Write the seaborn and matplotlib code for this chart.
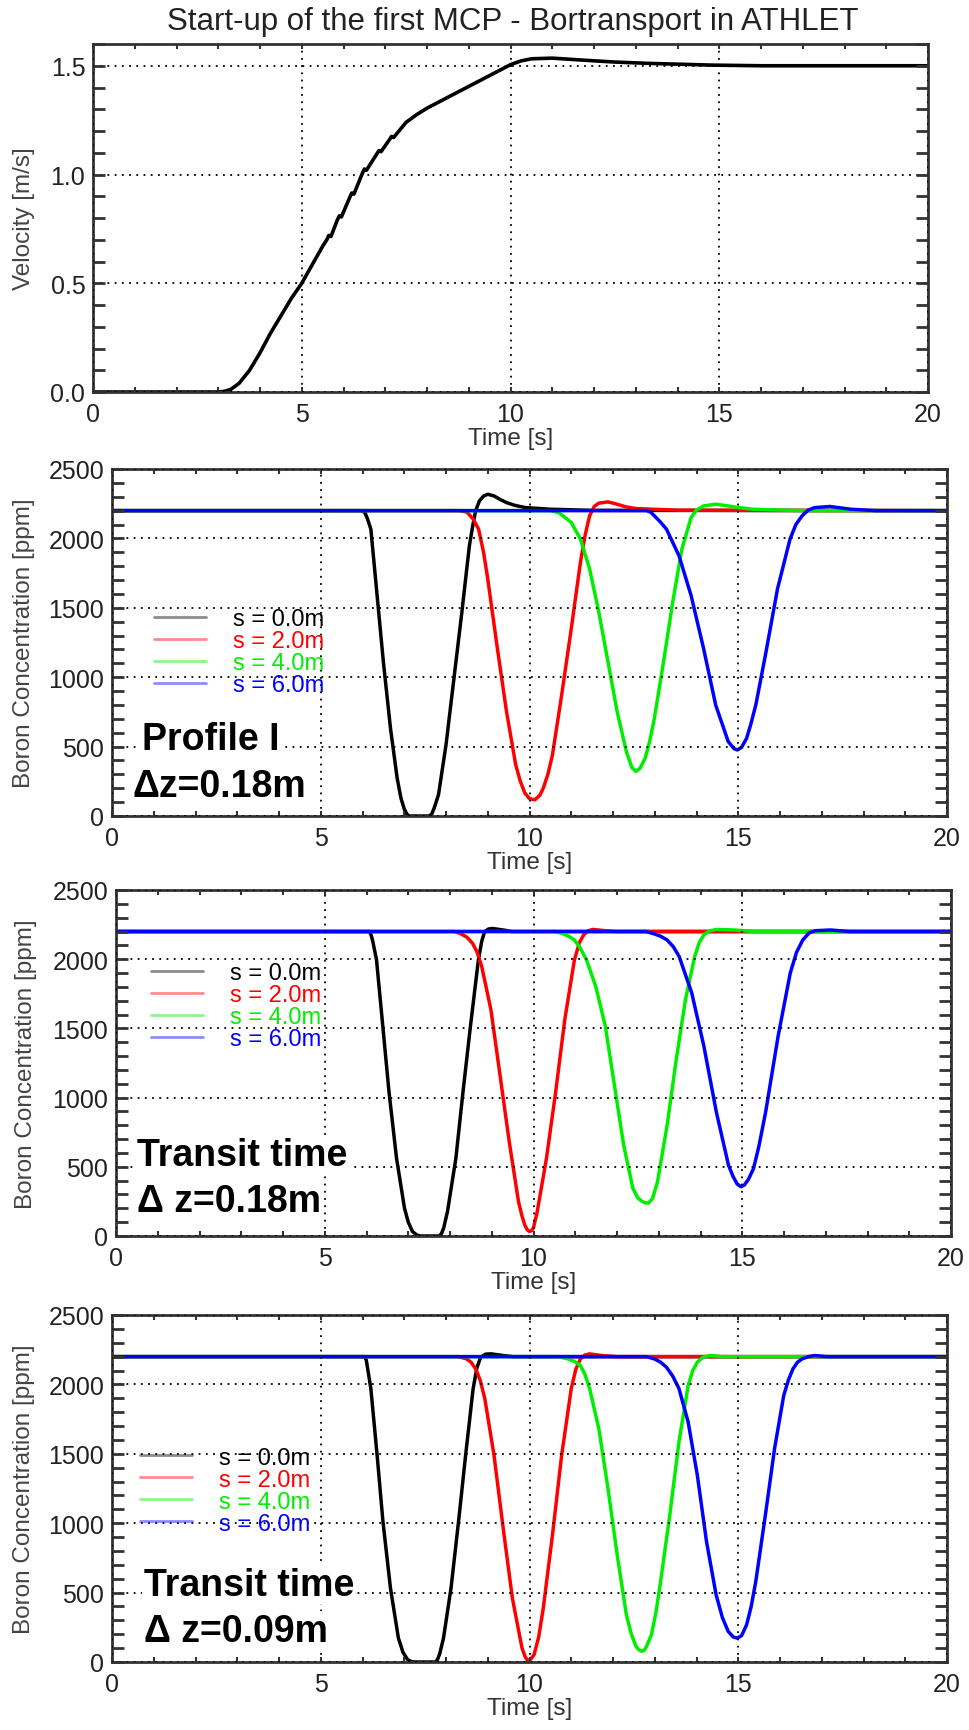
import matplotlib
matplotlib.use("Agg")
import matplotlib.pyplot as plt
import seaborn as sns
from matplotlib.lines import Line2D
from matplotlib.ticker import MultipleLocator, FormatStrFormatter

# ---------------- data ----------------
title = "Start-up of the first MCP - Bortransport in ATHLET"
series_labels = ["s = 0.0m", "s = 2.0m", "s = 4.0m", "s = 6.0m"]
series_colors = ["#000000", "#ff0000", "#00ee00", "#0000ff"]

vel_t = [0.0, 3.0, 3.15, 3.3, 3.5, 3.75, 4.0, 4.25, 4.5, 4.75, 5.0, 5.25, 5.5, 5.6, 5.65, 5.7,
         5.85, 5.9, 5.95, 6.15, 6.2, 6.25, 6.45, 6.5, 6.55, 6.8, 6.85, 6.9, 7.1, 7.15, 7.2,
         7.5, 7.75, 8.0, 8.5, 9.0, 9.5, 9.8, 10.0, 10.25, 10.5, 11.0, 11.8, 12.5, 13.3, 14.8,
         16.0, 20.0]
vel_v = [0.0, 0.0, 0.003, 0.012, 0.04, 0.10, 0.18, 0.27, 0.35, 0.43, 0.5, 0.585, 0.67, 0.70,
         0.72, 0.715, 0.79, 0.81, 0.805, 0.895, 0.915, 0.91, 1.005, 1.025, 1.02, 1.095, 1.11,
         1.105, 1.16, 1.175, 1.17, 1.24, 1.275, 1.305, 1.355, 1.405, 1.455, 1.485, 1.505,
         1.522, 1.532, 1.535, 1.525, 1.517, 1.511, 1.503, 1.50, 1.50]

# Panel "Profile I, dz=0.18m"
p1_s0_t = [0, 5.98, 6.06, 6.12, 6.2, 6.35, 6.5, 6.67, 6.83, 6.92, 7.0, 7.06, 7.11, 7.6, 7.66,
           7.72, 7.82, 8.0, 8.19, 8.38, 8.56, 8.64, 8.71, 8.8, 8.9, 9.0, 9.15, 9.3, 9.45, 9.65,
           9.9, 10.5, 11.5, 20]
p1_s0_c = [2200, 2200, 2185, 2140, 2067, 1589, 1110, 632, 273, 130, 50, 15, 0, 0, 15,
           60, 153, 512, 990, 1469, 1947, 2090, 2200, 2270, 2305, 2318, 2306, 2280, 2258, 2238,
           2222, 2210, 2202, 2200]
p1_s2_t = [0, 8.3, 8.5, 8.65, 8.78, 8.9, 9.0, 9.22, 9.45, 9.67, 9.78, 9.89, 10.0, 10.13, 10.25,
           10.33, 10.44, 10.55, 10.77, 11.0, 11.22, 11.33, 11.44, 11.55, 11.66, 11.88, 12.1,
           12.3, 12.55, 13.58, 20]
p1_s2_c = [2200, 2200, 2190, 2140, 2067, 1900, 1708, 1230, 751, 368, 250, 165, 125, 117, 150,
           201, 300, 440, 871, 1349, 1828, 2020, 2163, 2230, 2254, 2263, 2246,
           2228, 2215, 2203, 2200]
p1_s4_t = [0, 10.5, 10.7, 11.0, 11.22, 11.44, 11.66, 11.88, 12.1, 12.32, 12.45, 12.55, 12.65,
           12.77, 12.88, 12.99, 13.21, 13.43, 13.65, 13.87, 14.0, 14.17, 14.46, 14.76, 15.0,
           15.35, 16.5, 20]
p1_s4_c = [2200, 2200, 2186, 2115, 1995, 1780, 1469, 1110, 751, 464, 350, 321, 345,
           416, 540, 703, 1110, 1541, 1923, 2150, 2205, 2234, 2246, 2234, 2222,
           2210, 2200, 2200]
p1_s6_t = [0, 12.8, 12.9, 12.99, 13.13, 13.28, 13.58, 13.87, 14.17, 14.46, 14.76, 14.9, 14.98,
           15.08, 15.2, 15.3, 15.42, 15.65, 15.94, 16.24, 16.38, 16.53, 16.68, 16.83, 17.2,
           17.7, 18.3, 20]
p1_s6_c = [2200, 2200, 2190, 2163, 2120, 2067, 1876, 1589, 1206, 799, 536, 485, 476,
           495, 560, 660, 799, 1158, 1636, 1995, 2100, 2163, 2205, 2222, 2230,
           2210, 2200, 2200]

# Panel "Transit time, dz=0.18m"
p2_s0_t = [0, 6.07, 6.11, 6.15, 6.24, 6.39, 6.54, 6.72, 6.91, 7.0, 7.1, 7.2, 7.28, 7.75, 7.8,
           7.85, 7.94, 8.14, 8.31, 8.49, 8.68, 8.76, 8.83, 8.92, 9.02, 9.27, 9.5, 20]
p2_s0_c = [2200, 2200, 2175, 2130, 1995, 1517, 1038, 560, 201, 100, 33, 8, 0, 0, 20,
           60, 177, 560, 1038, 1517, 1995, 2130, 2199, 2218, 2222, 2211, 2200, 2200]
p2_s2_t = [0, 8.1, 8.24, 8.4, 8.54, 8.65, 8.76, 8.98, 9.2, 9.42, 9.64, 9.72, 9.79, 9.85, 9.9,
           9.95, 10.0, 10.09, 10.31, 10.53, 10.75, 10.98, 11.1, 11.2, 11.3, 11.42, 11.72, 12.0, 20]
p2_s2_c = [2200, 2200, 2187, 2160, 2115, 2050, 1947, 1636, 1158, 679, 249, 150, 80, 45, 33,
           38, 60, 177, 560, 1038, 1565, 1995, 2120, 2175, 2205, 2215, 2206, 2200, 2200]
p2_s4_t = [0, 10.5, 10.68, 10.85, 10.98, 11.12, 11.27, 11.49, 11.72, 11.94, 12.16, 12.38, 12.5,
           12.6, 12.68, 12.75, 12.85, 12.97, 13.2, 13.42, 13.64, 13.86, 13.97, 14.08, 14.2,
           14.38, 14.82, 15.27, 20]
p2_s4_c = [2200, 2200, 2187, 2165, 2139, 2080, 1995, 1804, 1517, 1086, 656, 344, 275,
           250, 240, 237, 270, 392, 799, 1278, 1708, 2019, 2120, 2175, 2203,
           2215, 2211, 2200, 2200]
p2_s6_t = [0, 12.7, 12.9, 13.05, 13.2, 13.35, 13.49, 13.79, 14.08, 14.38, 14.67, 14.78, 14.88,
           14.97, 15.05, 15.15, 15.27, 15.4, 15.56, 15.86, 16.15, 16.3, 16.45, 16.6, 16.75,
           17.12, 17.56, 20]
p2_s6_c = [2200, 2200, 2182, 2165, 2139, 2090, 2019, 1756, 1373, 895, 512, 430, 375,
           356, 368, 410, 488, 650, 895, 1445, 1900, 2050, 2139, 2190, 2206,
           2211, 2200, 2200]

# Panel "Transit time, dz=0.09m"
p3_s0_t = [0, 6.05, 6.09, 6.12, 6.2, 6.35, 6.49, 6.67, 6.86, 6.97, 7.08, 7.17, 7.26, 7.75, 7.8,
           7.85, 7.94, 8.12, 8.3, 8.47, 8.65, 8.74, 8.83, 8.95, 9.08, 9.37, 9.6, 20]
p3_s0_c = [2200, 2200, 2175, 2120, 1970, 1490, 1011, 532, 172, 70, 17, 3, 0, 0, 20,
           60, 172, 532, 1011, 1490, 1970, 2120, 2196, 2218, 2220, 2208, 2200, 2200]
p3_s2_t = [0, 8.3, 8.49, 8.6, 8.71, 8.82, 8.93, 9.15, 9.37, 9.59, 9.82, 9.9, 9.96, 10.03, 10.11,
           10.22, 10.33, 10.55, 10.77, 11.0, 11.11, 11.22, 11.33, 11.44, 11.73, 12.1, 20]
p3_s2_c = [2200, 2200, 2184, 2160, 2112, 2030, 1897, 1490, 963, 460, 101, 35, 10, 20, 53,
           180, 388, 915, 1490, 1970, 2110, 2184, 2212, 2220, 2208, 2200, 2200]
p3_s4_t = [0, 10.7, 10.92, 11.08, 11.22, 11.33, 11.44, 11.66, 11.88, 12.1, 12.32, 12.44, 12.55,
           12.62, 12.69, 12.75, 12.8, 12.92, 13.03, 13.14, 13.36, 13.58, 13.8, 13.91, 14.02,
           14.15, 14.32, 14.61, 20]
p3_s4_c = [2200, 2200, 2184, 2165, 2136, 2070, 1970, 1681, 1250, 772, 340, 200, 113,
           88, 77, 85, 110, 196, 360, 580, 1059, 1586, 1993, 2100, 2160,
           2195, 2208, 2200, 2200]
p3_s6_t = [0, 12.8, 12.99, 13.14, 13.28, 13.43, 13.58, 13.8, 14.02, 14.24, 14.47, 14.62, 14.76,
           14.88, 14.98, 15.08, 15.2, 15.31, 15.42, 15.65, 15.87, 16.09, 16.2, 16.31, 16.42,
           16.53, 16.68, 16.83, 17.12, 20]
p3_s6_c = [2200, 2200, 2184, 2160, 2124, 2060, 1970, 1729, 1346, 867, 484, 320, 220,
           180, 172, 190, 268, 400, 580, 1059, 1538, 1921, 2030, 2112, 2160,
           2184, 2200, 2208, 2200, 2200]

panel_notes = [("Profile I", "\u0394z=0.18m"),
               ("Transit time", "\u0394 z=0.18m"),
               ("Transit time", "\u0394 z=0.09m")]

# ---------------- style ----------------
sns.set_theme(style="white")
plt.rcParams["font.family"] = ["Liberation Sans", "DejaVu Sans"]

W, H = 969, 1731
fig = plt.figure(figsize=(W / 100, H / 100), dpi=100)
fig.patch.set_facecolor("white")

def rect(left, top, right, bottom):
    return [left / W, 1 - bottom / H, (right - left) / W, (bottom - top) / H]

ax_rects = [rect(93, 45, 928, 393), rect(112, 470, 947, 817),
            rect(116, 891, 951, 1237), rect(112, 1316, 947, 1663)]
ylab_x = [-0.0695, -0.092, -0.0946, -0.092]

TICK_FS = 18
LAB_FS = 17.5
grid_style = dict(color="black", linestyle=(0, (1, 3)), linewidth=1.3)

def style_axes(ax, k):
    ax.set_facecolor("white")
    for sp in ax.spines.values():
        sp.set_color("#333333")
        sp.set_linewidth(2)
        sp.set_visible(True)
    ax.set_xlim(0, 20)
    ax.xaxis.set_major_locator(MultipleLocator(5))
    ax.xaxis.set_minor_locator(MultipleLocator(1))
    ax.tick_params(axis="x", which="both", direction="in", top=True, bottom=True,
                   length=3.5, width=1.5, color="#333333")
    ax.tick_params(axis="x", which="major", labelsize=TICK_FS, pad=7, labelcolor="#222222")
    ax.tick_params(axis="y", which="both", direction="in", left=True, right=True,
                   length=8.5, width=2, color="#333333")
    ax.tick_params(axis="y", which="major", labelsize=TICK_FS, pad=5.5, labelcolor="#222222")
    ax.grid(True, which="major", **grid_style)
    ax.set_axisbelow(False)
    ax.set_xlabel("Time [s]", fontsize=LAB_FS, color="#333333", labelpad=1)
    ax.yaxis.set_label_coords(ylab_x[k], 0.5)

axes = [fig.add_axes(r) for r in ax_rects]

# Velocity panel
ax = axes[0]
sns.lineplot(x=vel_t, y=vel_v, ax=ax, color="black", linewidth=2.6, estimator=None, sort=False)
ax.set_ylim(0, 1.6)
ax.yaxis.set_major_locator(MultipleLocator(0.5))
ax.yaxis.set_minor_locator(MultipleLocator(0.1))
ax.yaxis.set_major_formatter(FormatStrFormatter("%.1f"))
style_axes(ax, 0)
ax.set_ylabel("Velocity [m/s]", fontsize=LAB_FS, color="#444444")
fig.text(513 / W, 1 - 22 / H, title, ha="center", va="center", fontsize=22.5, color="#222222")

boron_sets = [
    [(p1_s0_t, p1_s0_c), (p1_s2_t, p1_s2_c), (p1_s4_t, p1_s4_c), (p1_s6_t, p1_s6_c)],
    [(p2_s0_t, p2_s0_c), (p2_s2_t, p2_s2_c), (p2_s4_t, p2_s4_c), (p2_s6_t, p2_s6_c)],
    [(p3_s0_t, p3_s0_c), (p3_s2_t, p3_s2_c), (p3_s4_t, p3_s4_c), (p3_s6_t, p3_s6_c)],
]
legend_anchor = [(0.050, 0.600), (0.042, 0.792), (0.0335, 0.621)]
note_pos = [((0.0355, 0.222), (0.024, 0.0865)),
            ((0.025, 0.234), (0.025, 0.101)),
            ((0.038, 0.2225), (0.038, 0.0896))]

for i, data in enumerate(boron_sets):
    ax = axes[i + 1]
    for (t, c), col in zip(data, series_colors):
        sns.lineplot(x=t, y=c, ax=ax, color=col, linewidth=2.5, estimator=None, sort=False)
    ax.set_ylim(0, 2500)
    ax.yaxis.set_major_locator(MultipleLocator(500))
    ax.yaxis.set_minor_locator(MultipleLocator(100))
    style_axes(ax, i + 1)
    ax.set_ylabel("Boron Concentration [ppm]", fontsize=LAB_FS, color="#444444")
    handles = [Line2D([0], [0], color=col, linewidth=2, alpha=0.45) for col in series_colors]
    leg = ax.legend(handles, series_labels, loc="upper left", bbox_to_anchor=legend_anchor[i],
                    frameon=False, fontsize=17, labelcolor=series_colors, handlelength=2.2,
                    handletextpad=1.15, labelspacing=0.0, borderpad=0, borderaxespad=0)
    leg.set_zorder(5)
    for (xx, yy), txt in zip(note_pos[i], panel_notes[i]):
        ax.text(xx, yy, txt, transform=ax.transAxes, ha="left", va="center",
                fontsize=27, fontweight="bold", color="black", zorder=6,
                bbox=dict(facecolor="white", edgecolor="none", pad=1))

fig.savefig("out.png", dpi=100, facecolor="white")
